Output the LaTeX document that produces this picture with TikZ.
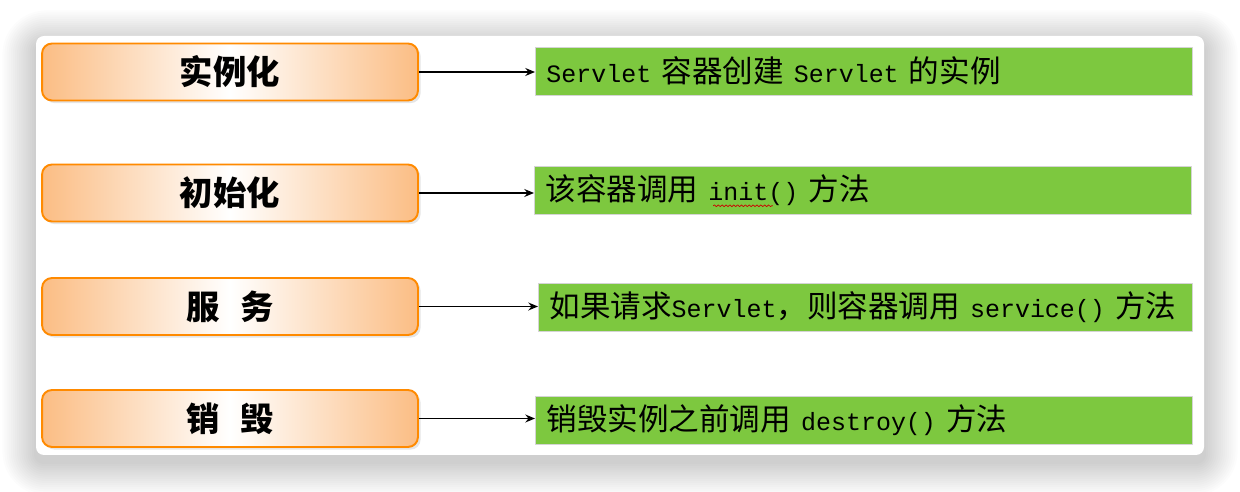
\documentclass[tikz,border=0pt]{standalone}
\usepackage{fontspec}
\newfontfamily\cjk{Noto Sans CJK SC}
\newfontfamily\mono{Liberation Mono}
\usetikzlibrary{arrows.meta,shadows,decorations.pathmorphing}
\definecolor{stageline}{HTML}{FF8A00}
\definecolor{stagefill}{HTML}{FBBD84}
\definecolor{notegreen}{HTML}{7DC83F}
\definecolor{noteline}{HTML}{D4D4D4}
\newcommand{\code}[1]{{\mono\fontsize{14.2}{16}\selectfont #1}}
\tikzset{
  stage/.style={draw=stageline, line width=1.1pt, rounded corners=0.2cm,
    left color=stagefill, right color=stagefill, middle color=white,
    drop shadow={shadow xshift=1.5pt, shadow yshift=-1.5pt, fill=black, opacity=0.1},
    minimum width=7.52cm, minimum height=1.14cm, text=black,
    font=\cjk\bfseries\fontsize{19}{21}\selectfont},
  note/.style={draw=noteline, line width=0.5pt, fill=notegreen, anchor=west,
    inner xsep=0.22cm, text width=12.7cm, minimum height=0.96cm, align=left,
    font=\cjk\fontsize{17.4}{20}\selectfont},
}
\begin{document}
\begin{tikzpicture}[x=0.02cm, y=-0.02cm, line join=round, >={Stealth[length=5.5pt,width=4.5pt]}]
	\useasboundingbox (0,0) rectangle (1240,492);
	\fill[white] (0,0) rectangle (1240,492);
	% soft shadow of the card
	\foreach \i in {1,...,16}{
		\pgfmathsetmacro{\r}{0.16+0.045*\i}
		\fill[black, opacity=0.011, rounded corners=\r cm] (36-2.1*\i,44-2.1*\i) rectangle (1204+2.1*\i,462+2.1*\i);}
	\fill[white, rounded corners=0.16cm] (36,36) rectangle (1204,455);
	% stages
	\node[stage] (inst) at (230,72) {实例化};
	\node[stage] (init) at (230,193) {初始化};
	\node[stage] (serv) at (230,306.5) {服\hspace{0.6em}务};
	\node[stage] (dest) at (230,418.5) {销\hspace{0.6em}毁};
	% notes
	\node[note] (ninst) at (535,71) {\code{Servlet }容器创建\code{ Servlet }的实例};
	\node[note] (ninit) at (534,190.5) {该容器调用\code{ init() }方法};
	\node[note, text width=12.64cm] (nserv) at (538,307) {\mbox{如果请求\code{Servlet}，则容器调用\code{ service() }方法}};
	\node[note] (ndest) at (535,420.5) {销毁实例之前调用\code{ destroy() }方法};
	\draw[red!80!black, line width=0.4pt, decorate, decoration={snake, amplitude=0.5pt, segment length=2.2pt}]
		([xshift=95.5pt, yshift=-2.8pt]ninit.text) -- ([xshift=129.5pt, yshift=-2.8pt]ninit.text);
	% arrows
	\draw[->, line width=0.8pt] (inst) -- (inst -| ninst.west);
	\draw[->, line width=0.8pt] (init) -- (init -| ninit.west);
	\draw[->, line width=0.8pt] (serv) -- (serv -| nserv.west);
	\draw[->, line width=0.8pt] (dest) -- (dest -| ndest.west);
\end{tikzpicture}
\end{document}
